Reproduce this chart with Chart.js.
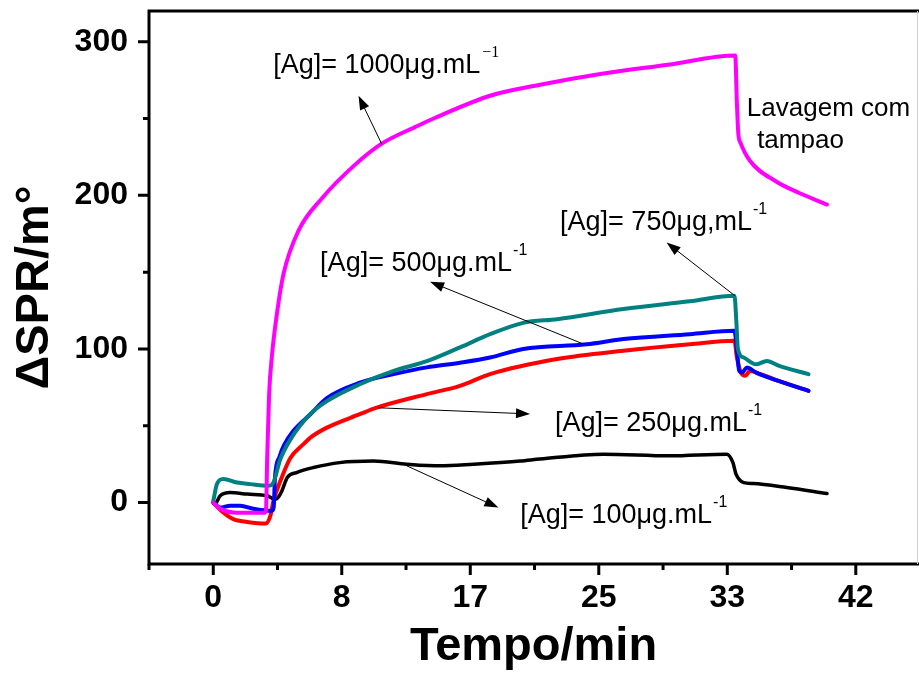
<!DOCTYPE html>
<html>
<head>
<meta charset="utf-8">
<title>SPR - Ag</title>
<script src="https://cdn.jsdelivr.net/npm/chart.js@4.4.1/dist/chart.umd.min.js"></script>
<style>
  body { margin: 0; background: #fff; }
  #wrap { width: 919px; height: 675px; }
</style>
</head>
<body>
<div id="wrap"><canvas id="sprChart" width="919" height="675"></canvas></div>
<script>
// ===== DATA (tempo em min, ΔSPR em m°) =====
const t1000 = [0, 0.45, 1.3, 2.3, 3.3, 3.42, 3.5, 3.62, 3.8, 4.13, 4.56, 5.53, 7.04, 9.2, 10.9, 13.2, 14.4, 18, 21.2, 25.1, 29.5, 33.85, 33.95, 34.05, 34.2, 34.8, 36.5, 38, 39.8];
const v1000 = [0, -4, -6.5, -6.7, -6.7, -5, 30, 70, 95, 123, 149, 177, 198, 220, 233.5, 245, 250.5, 265, 272, 279, 285, 291, 262, 240, 234, 222.5, 209, 201.5, 194];

const t750 = [0, 0.24, 0.65, 1.54, 2.4, 3.56, 3.9, 4.34, 5, 6.3, 7.37, 9.5, 11.7, 13.85, 16, 17.95, 20.1, 22.3, 26.6, 30.9, 33.8, 33.92, 34.02, 34.4, 35.2, 35.9, 36.7, 38.6];
const v750 = [1, 12, 15.4, 13, 12, 10.9, 13, 28, 41, 57.7, 66, 77, 85.7, 92, 101, 109.6, 117, 119.4, 126, 131, 134.6, 118, 100, 94.4, 90, 92.2, 89, 83.6];

const t500 = [0, 0.45, 1.1, 1.75, 2.6, 3.8, 3.92, 4.0, 4.3, 4.6, 5.2, 6.3, 7.37, 9.5, 11.7, 13.85, 16, 17.95, 20.1, 24.2, 26.6, 30.9, 33.8, 33.95, 34.1, 34.3, 34.6, 35.2, 36.7, 38.6];
const v500 = [0, -3.3, -2, -2, -4, -5.4, -3, 16, 30, 37.5, 46.7, 57.5, 68, 78, 83.6, 88, 91, 94.4, 100, 103, 106.4, 109.6, 111.8, 100, 86, 84.6, 88, 84.6, 79, 72.7];

const t250 = [0, 0.65, 1.3, 2.2, 3.4, 3.7, 3.9, 4.35, 5, 5.85, 6.3, 7.37, 9.5, 10.6, 13.85, 16, 17.95, 22.3, 26.6, 30.9, 33.8, 33.95, 34.2, 34.5, 34.8, 35.5, 36.7, 38.6];
const v250 = [0, -6.5, -10.8, -12.6, -13.7, -8.7, 1, 14, 29, 38, 42.3, 48.8, 57.5, 61.8, 70.6, 76, 83.6, 93.4, 98.8, 103, 105.3, 95, 85, 82.5, 85.7, 83.6, 79, 72.7];

const t100 = [0, 0.1, 0.45, 1.1, 2.2, 3.5, 4.0, 4.2, 4.45, 4.8, 5.4, 6.5, 8.2, 10.4, 12.55, 14.7, 16.9, 19.9, 21.2, 25.3, 29.6, 33.3, 33.7, 33.9, 34.4, 35, 37.2, 39.8];
const v100 = [0, -1, 4.4, 6.5, 5.5, 4.4, 2.2, 3.3, 7.6, 16.3, 19.5, 22.8, 26, 27, 25, 23.9, 25, 27, 28.3, 31.5, 30.4, 31.5, 26, 18.5, 13, 12.4, 9.8, 5.9];

// ticks (min): 500 s steps, labels rounded
const xMajorTicks = [0, 8.3333, 16.6667, 25, 33.3333, 41.6667];
const xMinorTicks = [-4.1667, 4.1667, 12.5, 20.8333, 29.1667, 37.5];
const yMajorTicks = [0, 100, 200, 300];
const yMinorTicks = [50, 150, 250];

// ===== ANNOTATIONS (data coords) =====
const noteText = ["[Ag]= 1000μg.mL", "[Ag]= 750μg,mL", "[Ag]= 500μg.mL", "[Ag]= 250μg.mL", "[Ag]= 100μg.mL"];
const noteAt = [[3.89, 284.2], [22.49, 182.1], [6.93, 155.4], [22.16, 51.2], [19.9, -8.7]];
const arrowFrom = [[10.93, 233.3], [33.83, 134.6], [23.98, 103.3], [10.69, 61.7], [12.55, 23.9]];
const arrowTo = [[9.42, 264.8], [29.4, 169.3], [14.06, 143.7], [20.54, 57.7], [18.49, -3.3]];
const washText = ["Lavagem com", " tampao"];
const washAt = [[34.6, 256.3], [34.8, 235.4]];

const SANS = "'Liberation Sans', Arial, Helvetica, sans-serif";

function pts(ts, vs) {
  return ts.map((t, i) => ({ x: t, y: vs[i] }));
}

function arrow(ctx, x1, y1, x2, y2) {
  const ang = Math.atan2(y2 - y1, x2 - x1);
  const len = 14, half = 5;
  ctx.beginPath();
  ctx.moveTo(x1, y1);
  ctx.lineTo(x2 - Math.cos(ang) * len * 0.8, y2 - Math.sin(ang) * len * 0.8);
  ctx.stroke();
  ctx.beginPath();
  ctx.moveTo(x2, y2);
  ctx.lineTo(x2 - Math.cos(ang) * len - Math.sin(ang) * half, y2 - Math.sin(ang) * len + Math.cos(ang) * half);
  ctx.lineTo(x2 - Math.cos(ang) * len + Math.sin(ang) * half, y2 - Math.sin(ang) * len - Math.cos(ang) * half);
  ctx.closePath();
  ctx.fill();
}

// ===== FRAME, TICK MARKS, NOTES =====
const framePlugin = {
  id: "frame",
  afterDatasetsDraw(chart) {
    const { ctx, chartArea: a, scales: { x, y } } = chart;
    ctx.save();
    ctx.strokeStyle = "#000";
    ctx.lineWidth = 3;
    ctx.lineCap = "square";
    ctx.beginPath();
    ctx.moveTo(a.right + 2, a.top);
    ctx.lineTo(a.left, a.top);
    ctx.lineTo(a.left, a.bottom);
    ctx.lineTo(a.right + 2, a.bottom);
    ctx.stroke();

    ctx.lineCap = "butt";
    ctx.beginPath();
    xMajorTicks.forEach(v => { const px = x.getPixelForValue(v); ctx.moveTo(px, a.bottom); ctx.lineTo(px, a.bottom + 11); });
    xMinorTicks.forEach(v => { const px = x.getPixelForValue(v); ctx.moveTo(px, a.bottom); ctx.lineTo(px, a.bottom + 6); });
    yMajorTicks.forEach(v => { const py = y.getPixelForValue(v); ctx.moveTo(a.left, py); ctx.lineTo(a.left - 11, py); });
    yMinorTicks.forEach(v => { const py = y.getPixelForValue(v); ctx.moveTo(a.left, py); ctx.lineTo(a.left - 6, py); });
    ctx.stroke();

    // right edge (cropped)
    ctx.strokeStyle = "#d0d0d0";
    ctx.lineWidth = 1;
    ctx.beginPath();
    ctx.moveTo(917.5, a.top);
    ctx.lineTo(917.5, a.bottom);
    ctx.stroke();

    // arrows
    ctx.strokeStyle = "#000";
    ctx.fillStyle = "#000";
    ctx.lineWidth = 1;
    arrowFrom.forEach((p, i) => {
      arrow(ctx, x.getPixelForValue(p[0]), y.getPixelForValue(p[1]),
        x.getPixelForValue(arrowTo[i][0]), y.getPixelForValue(arrowTo[i][1]));
    });

    // labels
    ctx.textBaseline = "middle";
    ctx.textAlign = "left";
    noteText.forEach((txt, i) => {
      const px = x.getPixelForValue(noteAt[i][0]);
      const py = y.getPixelForValue(noteAt[i][1]);
      ctx.font = "27px " + SANS;
      ctx.fillText(txt, px, py);
      const w = ctx.measureText(txt).width;
      if (i === 0) {
        ctx.font = "16px 'Liberation Serif', 'Times New Roman', serif";
        ctx.fillText("\u22121", px + w + 2, py - 13);
      } else {
        ctx.font = "16px " + SANS;
        ctx.fillText("-1", px + w + 1, py - 13);
      }
    });
    ctx.font = "26px " + SANS;
    washText.forEach((txt, i) => {
      ctx.fillText(txt, x.getPixelForValue(washAt[i][0]), y.getPixelForValue(washAt[i][1]));
    });
    ctx.restore();
  }
};

document.addEventListener("DOMContentLoaded", () => {
  const ctx = document.getElementById("sprChart").getContext("2d");

  const line = (label, ts, vs, color, width) => ({
    label: label,
    data: pts(ts, vs),
    borderColor: color,
    borderWidth: width,
    pointRadius: 0,
    fill: false,
    cubicInterpolationMode: "monotone"
  });

  new Chart(ctx, {
    type: "line",
    data: {
      datasets: [
        line("1000", t1000, v1000, "#ff00ff", 4),
        line("750", t750, v750, "#008080", 4),
        line("500", t500, v500, "#0000ff", 4),
        line("250", t250, v250, "#ff0000", 4),
        line("100", t100, v100, "#000000", 3.5)
      ]
    },
    options: {
      responsive: false,
      devicePixelRatio: 1,
      animation: false,
      layout: { padding: { top: 11, right: 1, left: 0, bottom: 0 } },
      plugins: { legend: { display: false }, tooltip: { enabled: false } },
      elements: { line: { borderCapStyle: "round", borderJoinStyle: "round" } },
      scales: {
        x: {
          type: "linear",
          min: -4.1667,
          max: 45.7,
          afterBuildTicks: s => { s.ticks = xMajorTicks.map(v => ({ value: v })); },
          afterFit: s => { s.height = 111; s.paddingLeft = 0; s.paddingRight = 0; },
          grid: { display: false, drawTicks: false },
          border: { display: false },
          ticks: {
            padding: 15,
            color: "#000",
            autoSkip: false,
            maxRotation: 0,
            font: { family: SANS, size: 32, weight: "bold" },
            callback: v => Math.round(v)
          },
          title: {
            display: true,
            text: "Tempo/min",
            color: "#000",
            font: { family: SANS, size: 47, weight: "bold" },
            padding: { top: 0, bottom: 0 }
          }
        },
        y: {
          type: "linear",
          min: -40,
          max: 320,
          afterBuildTicks: s => { s.ticks = yMajorTicks.map(v => ({ value: v })); },
          afterFit: s => { s.width = 149; s.paddingTop = 0; s.paddingBottom = 0; },
          grid: { display: false, drawTicks: false },
          border: { display: false },
          ticks: {
            padding: 21,
            color: "#000",
            font: { family: SANS, size: 32, weight: "bold" }
          },
          title: {
            display: true,
            text: "ΔSPR/m°",
            color: "#000",
            font: { family: SANS, size: 47, weight: "bold" },
            padding: { top: 7, bottom: 0 }
          }
        }
      }
    },
    plugins: [framePlugin]
  });
});
</script>
</body>
</html>
